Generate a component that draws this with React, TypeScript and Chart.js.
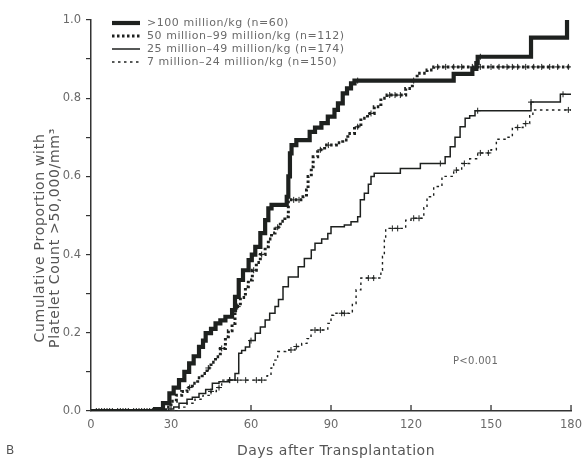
import React, { useEffect, useRef } from "react";
import { Chart, registerables } from "chart.js";
Chart.register(...registerables);

// ---- Data ----
const xTicks = [0, 30, 60, 90, 120, 150, 180];
const yTickLabels = ["0.0", "0.2", "0.4", "0.6", "0.8", "1.0"];

const seriesLabels = [
  ">100 million/kg (n=60)",
  "50 million–99 million/kg (n=112)",
  "25 million–49 million/kg (n=174)",
  "7 million–24 million/kg (n=150)",
];

// >100 million/kg
const s1Days = [0, 24, 27, 29.4, 31, 33, 35, 36.8, 38.5, 40.5, 42, 43, 45, 46.7, 48.5, 50.4, 52.9, 54, 55.4, 57, 59.1, 60.3, 61.6, 63.5, 65.3, 66.5, 67.7, 73.4, 74, 74.6, 75.2, 77, 82, 84, 86.4, 88.8, 91.3, 92.6, 94.4, 96, 97.5, 98.8, 136, 143, 144.5, 145, 165, 178.5];
const s1Prop = [0, 0.005, 0.02, 0.045, 0.06, 0.079, 0.1, 0.122, 0.14, 0.164, 0.18, 0.199, 0.21, 0.224, 0.232, 0.241, 0.258, 0.292, 0.335, 0.36, 0.386, 0.4, 0.42, 0.455, 0.488, 0.518, 0.527, 0.548, 0.6, 0.659, 0.68, 0.693, 0.714, 0.725, 0.736, 0.753, 0.77, 0.787, 0.8125, 0.825, 0.838, 0.845, 0.862, 0.875, 0.89, 0.906, 0.955, 1.0];

// 50-99 million/kg
const s2Days = [0, 28, 30, 32, 34, 36, 38, 40, 41.7, 43.5, 45, 46.7, 48.5, 50.4, 51.5, 52.9, 54, 56, 57.9, 59, 60.5, 62, 63.5, 65.3, 66.5, 67.7, 69, 71, 72.7, 74, 79.5, 80.8, 81.4, 82.6, 83.3, 85, 87.6, 92, 94.4, 96.3, 98.8, 101.2, 103.7, 106.2, 108.7, 111, 118, 120.5, 122.3, 126, 128.5, 180];
const s2Prop = [0, 0.01, 0.025, 0.04, 0.05, 0.06, 0.071, 0.085, 0.096, 0.11, 0.125, 0.139, 0.16, 0.19, 0.205, 0.224, 0.267, 0.29, 0.318, 0.335, 0.36, 0.38, 0.4, 0.42, 0.44, 0.455, 0.47, 0.485, 0.497, 0.54, 0.548, 0.565, 0.6, 0.625, 0.65, 0.668, 0.68, 0.686, 0.693, 0.71, 0.727, 0.749, 0.761, 0.778, 0.8, 0.808, 0.825, 0.845, 0.864, 0.872, 0.88, 0.88];

// 25-49 million/kg
const s3Days = [0, 29, 31, 33, 36, 38, 40.5, 43, 45.5, 48, 51.7, 54, 55.4, 56.5, 57.9, 59.5, 61.6, 63.5, 65.3, 67, 69, 70.3, 72, 74, 77.7, 80, 82.6, 84, 86.5, 88.8, 90, 95, 97.5, 100, 101, 102.5, 104, 105, 106.2, 116, 123.5, 132.8, 134.7, 136.5, 138.4, 140.3, 142, 144, 165, 176, 180];
const s3Prop = [0, 0.005, 0.01, 0.02, 0.03, 0.035, 0.045, 0.055, 0.071, 0.075, 0.079, 0.096, 0.148, 0.155, 0.164, 0.18, 0.199, 0.215, 0.233, 0.25, 0.267, 0.285, 0.318, 0.343, 0.369, 0.39, 0.412, 0.429, 0.44, 0.454, 0.471, 0.476, 0.484, 0.497, 0.54, 0.557, 0.58, 0.6, 0.608, 0.62, 0.633, 0.65, 0.676, 0.7, 0.727, 0.749, 0.755, 0.768, 0.79, 0.81, 0.81];

// 7-24 million/kg
const s4Days = [0, 33, 36, 39, 42, 45, 47, 49, 66, 67.5, 68.5, 70, 73, 76.5, 79, 81, 82.5, 88.8, 90, 91, 96.9, 98, 99.4, 101.2, 108.7, 109.3, 110, 110.5, 118, 120, 124.8, 126, 128.5, 131.6, 136, 139, 142, 145, 150, 152, 155.8, 158, 162, 164.5, 165.7, 180];
const s4Prop = [0, 0.01, 0.02, 0.03, 0.04, 0.05, 0.06, 0.079, 0.09, 0.11, 0.13, 0.152, 0.156, 0.165, 0.173, 0.185, 0.207, 0.224, 0.245, 0.25, 0.254, 0.275, 0.31, 0.34, 0.36, 0.395, 0.437, 0.467, 0.488, 0.493, 0.52, 0.548, 0.574, 0.6, 0.616, 0.633, 0.645, 0.66, 0.668, 0.695, 0.7, 0.725, 0.735, 0.755, 0.77, 0.77];

// censored observations (days)
const s1Censor = [2, 5, 8, 11, 14, 17, 20, 23, 100, 146];
const s2Censor = [3, 7, 12, 16, 19, 22, 26, 37, 44, 49, 55, 61, 64, 70, 76, 78, 86, 89, 100, 105, 112, 114, 116, 121, 130, 133, 136, 139, 143, 146, 150, 153, 156, 158, 160, 163, 166, 169, 172, 175, 179];
const s3Censor = [4, 10, 18, 25, 52, 60, 131, 145, 165, 177];
const s4Censor = [6, 13, 21, 27, 45, 48, 52, 55, 58, 62, 64, 75, 77, 84, 86, 94, 95, 104, 106, 113, 115, 121, 123, 137, 140, 146, 149, 160, 163, 179];

const pValueText = "P<0.001";
const panelLabel = "B";
const xTitle = "Days after Transplantation";
const yTitleLines = ["Cumulative Proportion with", "Platelet Count >50,000/mm³"];

const INK = "#1e211f";
const TEXT = "#6a6a6a";

function stepAt(days: number[], prop: number[], d: number) {
  let v = 0;
  for (let i = 0; i < days.length; i++) if (days[i] <= d) v = prop[i];
  return v;
}

const styles = [
  { width: 4.2, dash: [] as number[] },
  { width: 3, dash: [2.5, 2.5] },
  { width: 1.5, dash: [] as number[] },
  { width: 1.4, dash: [2.5, 3.5] },
];

export default function App() {
  const ref = useRef<HTMLCanvasElement>(null);
  useEffect(() => {
    const canvas = ref.current!;
    const series = [
      [s1Days, s1Prop, s1Censor],
      [s2Days, s2Prop, s2Censor],
      [s3Days, s3Prop, s3Censor],
      [s4Days, s4Prop, s4Censor],
    ] as number[][][];

    const lineSets: any[] = series.map(([d, p], i) => ({
      label: seriesLabels[i],
      data: d.map((x, k) => ({ x, y: p[k] })),
      stepped: true,
      borderColor: INK,
      borderWidth: styles[i].width,
      borderDash: styles[i].dash,
      borderCapStyle: "butt",
      pointRadius: 0,
      fill: false,
      order: i,
    }));
    const censorSets: any[] = series.map(([d, p, c], i) => ({
      label: "censor" + i,
      data: c.map((x) => ({ x, y: stepAt(d, p, x) })),
      showLine: false,
      pointStyle: "cross",
      pointRadius: 3,
      borderColor: INK,
      borderWidth: 1,
      order: 4 + i,
    }));

    const textPlugin = {
      id: "extras",
      afterDraw(chart: any) {
        const ctx = chart.ctx;
        const xs = chart.scales.x;
        const area = chart.chartArea;
        ctx.save();
        // x ticks pointing up
        ctx.strokeStyle = "#333";
        ctx.lineWidth = 1.3;
        xTicks.forEach((t) => {
          if (t === 0) return;
          const px = xs.getPixelForValue(t);
          ctx.beginPath();
          ctx.moveTo(px, area.bottom);
          ctx.lineTo(px, area.bottom - 6);
          ctx.stroke();
        });
        // legend
        ctx.font = "11px 'DejaVu Sans'";
        (ctx as any).letterSpacing = "0.55px";
        ctx.textBaseline = "middle";
        seriesLabels.forEach((lab, i) => {
          const y = 23 + i * 13;
          ctx.strokeStyle = INK;
          ctx.lineWidth = styles[i].width;
          ctx.setLineDash(styles[i].dash);
          ctx.beginPath();
          ctx.moveTo(112, y);
          ctx.lineTo(140, y);
          ctx.stroke();
          ctx.setLineDash([]);
          ctx.fillStyle = TEXT;
          ctx.fillText(lab, 147, y);
        });
        // p value
        ctx.font = "10px 'DejaVu Sans'";
        (ctx as any).letterSpacing = "0.3px";
        ctx.fillStyle = TEXT;
        ctx.fillText(pValueText, 453, 361);
        // x title
        ctx.font = "14px 'DejaVu Sans'";
        (ctx as any).letterSpacing = "0.5px";
        ctx.textAlign = "center";
        ctx.fillStyle = "#555";
        ctx.fillText(xTitle, 336, 451);
        // panel label
        ctx.textAlign = "left";
        (ctx as any).letterSpacing = "0px";
        ctx.font = "12px 'DejaVu Sans'";
        ctx.fillText(panelLabel, 6, 451);
        // y title
        ctx.save();
        ctx.translate(40, 238);
        ctx.rotate(-Math.PI / 2);
        ctx.textAlign = "center";
        ctx.font = "14px 'DejaVu Sans'";
        (ctx as any).letterSpacing = "0.7px";
        ctx.fillText(yTitleLines[0], 0, 0);
        ctx.fillText(yTitleLines[1], 0, 15);
        ctx.restore();
        ctx.restore();
      },
    };

    const chart = new Chart(canvas, {
      type: "line",
      data: { datasets: [...lineSets, ...censorSets] },
      options: {
        animation: false,
        responsive: false,
        maintainAspectRatio: false,
        layout: { padding: { top: 20, right: 11, left: 0, bottom: 0 } },
        plugins: { legend: { display: false }, tooltip: { enabled: false } },
        scales: {
          x: {
            type: "linear",
            min: 0,
            max: 180,
            afterFit: (s: any) => { s.height = 52; },
            afterBuildTicks: (s: any) => { s.ticks = xTicks.map((v) => ({ value: v })); },
            ticks: {
              autoSkip: false,
              maxRotation: 0,
              padding: 4,
              color: TEXT,
              font: { family: "'DejaVu Sans'", size: 11.5 },
              callback: (v: any) => String(v),
            },
            grid: { drawOnChartArea: false, drawTicks: true, tickLength: 3, color: "rgba(0,0,0,0)" },
            border: { display: true, color: "#333", width: 1.5 },
          },
          y: {
            type: "linear",
            min: 0,
            max: 1,
            afterFit: (s: any) => { s.width = 91; },
            ticks: {
              stepSize: 0.1,
              autoSkip: false,
              padding: 5,
              color: TEXT,
              font: { family: "'DejaVu Sans'", size: 11.5 },
              callback: (v: any) => {
                const k = Math.round(Number(v) * 10);
                return k % 2 === 0 ? yTickLabels[k / 2] : "";
              },
            },
            grid: { drawOnChartArea: false, drawTicks: true, tickLength: 5, color: "#333", lineWidth: 1.2 },
            border: { display: true, color: "#333", width: 1.5 },
          },
        },
      },
      plugins: [textPlugin],
    } as any);
    return () => chart.destroy();
  }, []);

  return (
    <div style={{ position: "fixed", left: 0, top: 0, width: 586, height: 463, background: "#fff" }}>
      <canvas ref={ref} width={586} height={463} style={{ display: "block" }} />
    </div>
  );
}
